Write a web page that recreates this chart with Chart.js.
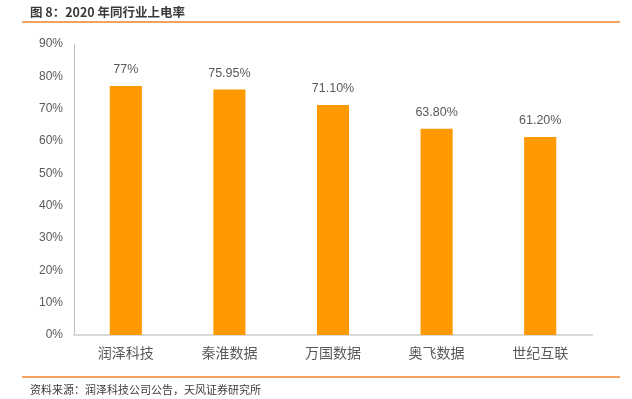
<!DOCTYPE html>
<html><head><meta charset="utf-8">
<script src="https://cdn.jsdelivr.net/npm/chart.js@4.4.1/dist/chart.umd.min.js"></script>
<style>
html,body{margin:0;padding:0;background:#fff;width:632px;height:399px;overflow:hidden;font-family:"Noto Sans CJK SC","Noto Sans",sans-serif;}
#title{position:absolute;left:30px;top:2px;font-size:12.5px;font-weight:bold;color:#3a3a3a;}
#line1{position:absolute;left:22px;top:21px;width:598px;height:1.5px;background:#F4A261;}
#line2{position:absolute;left:22px;top:376px;width:598px;height:1.5px;background:#F4A261;}
#src{position:absolute;left:30px;top:381px;font-size:11px;color:#3a3a3a;}
#wrap{position:absolute;left:0;top:0;width:632px;height:399px;}
</style></head>
<body>
<div id="wrap"><canvas id="c" width="632" height="399"></canvas></div>
<div id="title">图 8：2020 年同行业上电率</div>
<div id="line1"></div>
<div id="line2"></div>
<div id="src">资料来源：润泽科技公司公告，天风证券研究所</div>
<script>
const categories = ["润泽科技","秦淮数据","万国数据","奥飞数据","世纪互联"];
const values = [77, 75.95, 71.10, 63.80, 61.20];
const valueLabels = ["77%","75.95%","71.10%","63.80%","61.20%"];
const yTicks = [0,10,20,30,40,50,60,70,80,90];

const labelPlugin = {
  id:'vlabels',
  afterDatasetsDraw(chart){
    const ctx = chart.ctx;
    const meta = chart.getDatasetMeta(0);
    ctx.save();
    ctx.fillStyle = '#595959';
    ctx.font = '12.5px "Liberation Sans Narrow","Liberation Sans",sans-serif';
    ctx.textAlign = 'center';
    ctx.textBaseline = 'bottom';
    meta.data.forEach((bar,i)=>{
      ctx.fillText(valueLabels[i], bar.x, bar.y - 10);
    });
    ctx.restore();
  }
};

new Chart(document.getElementById('c'),{
  type:'bar',
  data:{labels:categories,datasets:[{data:values,backgroundColor:'#FF9900',borderWidth:0,categoryPercentage:1,barPercentage:0.31}]},
  options:{
    responsive:false,animation:false,
    layout:{padding:{left:0,top:44,right:40,bottom:0}},
    plugins:{legend:{display:false},tooltip:{enabled:false}},
    scales:{
      y:{min:0,max:90,
        afterFit(s){s.width=74;},
        afterBuildTicks(s){s.ticks = yTicks.map(v=>({value:v}));},
        grid:{display:false,drawTicks:false},
        border:{display:true,color:'#BFBFBF',width:1},
        ticks:{padding:11,color:'#595959',font:{size:12,family:'"Liberation Sans Narrow","Liberation Sans",sans-serif'},callback:v=>v+'%'}
      },
      x:{
        afterFit(s){s.height=64;},
        grid:{display:false,drawTicks:false},
        border:{display:true,color:'#D9D9D9',width:2},
        ticks:{padding:9,color:'#595959',font:{size:14,family:'"Noto Sans CJK SC",sans-serif'}}
      }
    }
  },
  plugins:[labelPlugin]
});
</script>
</body></html>
